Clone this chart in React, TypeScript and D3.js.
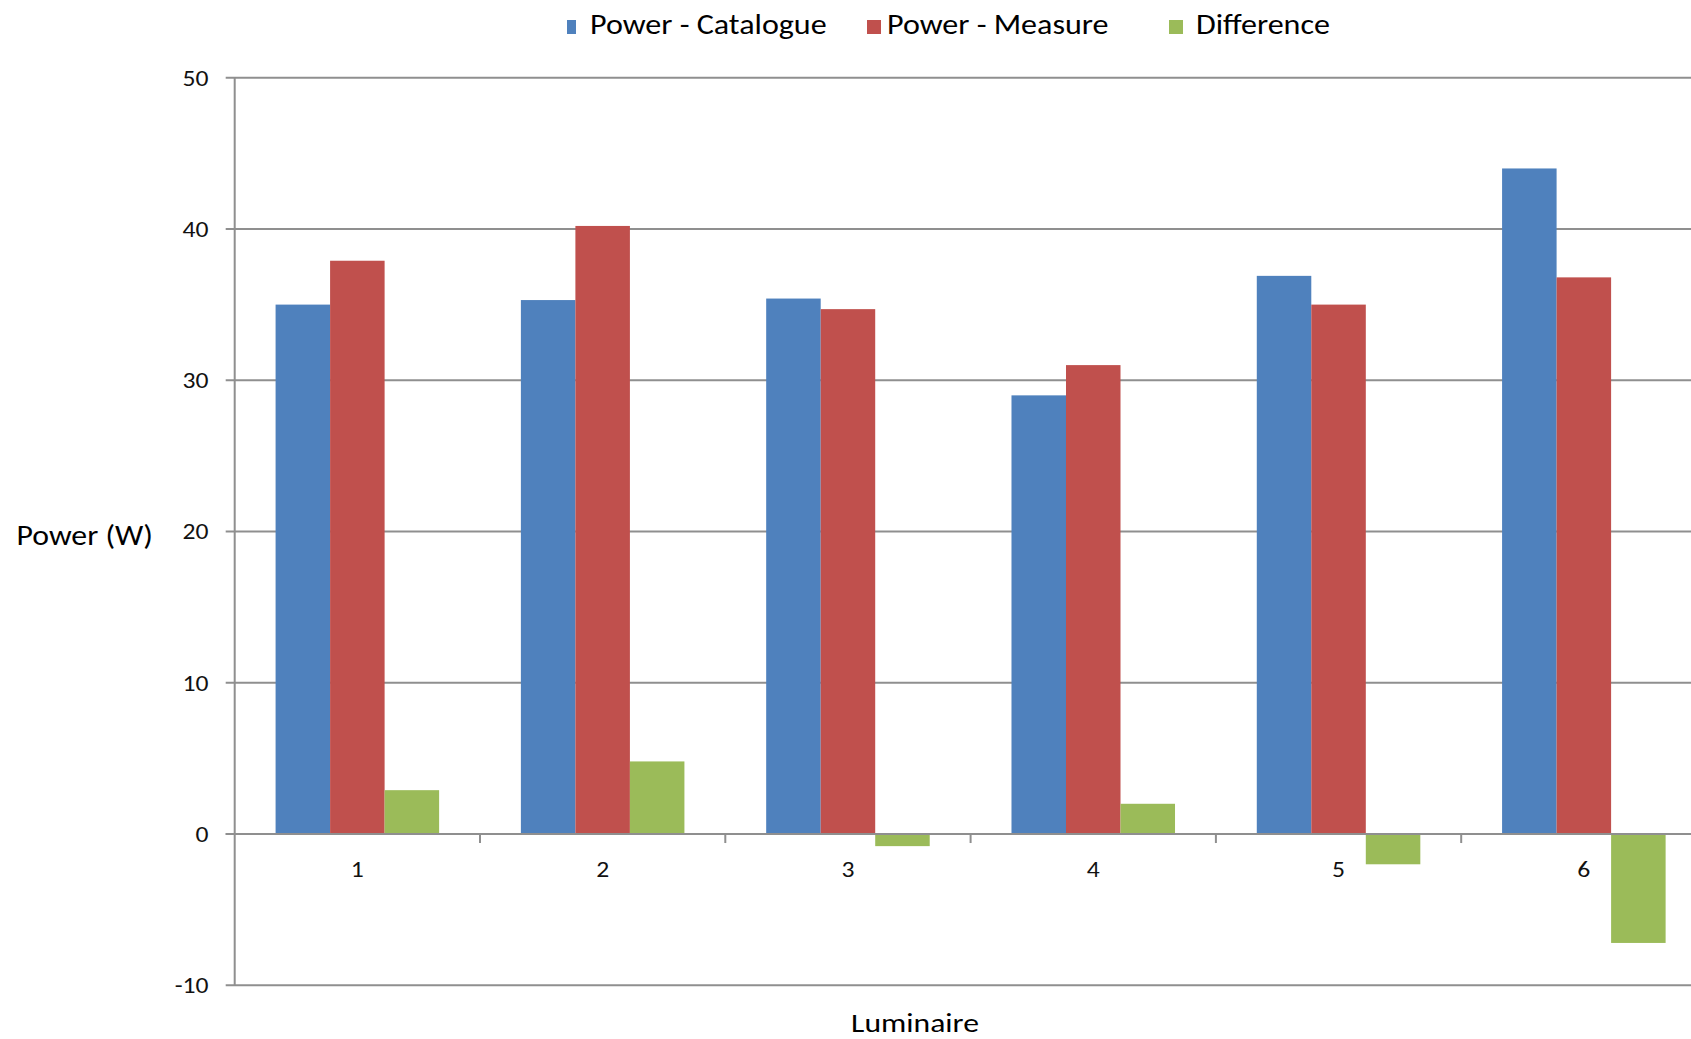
import React from "react";
import * as d3 from "d3";

// Luminaire numbers along the x axis
const luminaires = ["1", "2", "3", "4", "5", "6"];

// Power values in watts
const powerCatalogue = [35, 35.3, 35.4, 29, 36.9, 44];
const powerMeasure = [37.9, 40.2, 34.7, 31, 35, 36.8];
const difference = [2.9, 4.8, -0.8, 2, -2, -7.2];

const seriesNames = ["Power - Catalogue", "Power - Measure", "Difference"];
const seriesColors = ["#4F81BD", "#C0504D", "#9BBB59"];

const yTicks = [-10, 0, 10, 20, 30, 40, 50];

const W = 1691;
const H = 1039;
const FONT = "Carlito, Lato, sans-serif";
const GRID = "#8f8f8f";

// Text that is widened horizontally around its anchor point
function WideText(props: {
  x: number;
  y: number;
  size: number;
  sx: number;
  anchor?: "start" | "middle" | "end";
  dy?: string;
  fill?: string;
  children: React.ReactNode;
}) {
  const { x, y, size, sx, anchor = "start", dy, fill = "#000", children } = props;
  return (
    <text
      transform={`translate(${x},${y}) scale(${sx},1)`}
      textAnchor={anchor}
      dy={dy}
      fontSize={size}
      fill={fill}
    >
      {children}
    </text>
  );
}

export default function App() {
  const axisX = 234.7;
  const catWidth = 245.3;

  const y = d3.scaleLinear().domain([-10, 50]).range([985.3, 77.7]);

  const x = d3
    .scaleBand<string>()
    .domain(luminaires)
    .range([axisX, axisX + catWidth * luminaires.length])
    .padding(0);

  const inner = d3
    .scaleBand<string>()
    .domain(seriesNames)
    .range([0, x.bandwidth()])
    .paddingInner(0)
    .paddingOuter(0.75);

  const allSeries = [powerCatalogue, powerMeasure, difference];

  const legendItems = [
    { name: seriesNames[0], color: seriesColors[0], mx: 567, mw: 9, tx: 590 },
    { name: seriesNames[1], color: seriesColors[1], mx: 867, mw: 14, tx: 887 },
    { name: seriesNames[2], color: seriesColors[2], mx: 1169, mw: 14, tx: 1196 },
  ];

  return (
    <svg
      width={W}
      height={H}
      style={{ position: "absolute", left: 0, top: 0, background: "#fff" }}
      fontFamily={FONT}
    >
      <rect x={0} y={0} width={W} height={H} fill="#fff" />

      {/* legend */}
      {legendItems.map((d) => (
        <g key={d.name}>
          <rect x={d.mx} y={20} width={d.mw} height={14} fill={d.color} />
          <WideText x={d.tx} y={34} size={28} sx={1.145}>
            {d.name}
          </WideText>
        </g>
      ))}

      {/* horizontal gridlines with left tick marks */}
      {yTicks.map((t) => (
        <g key={t}>
          <line
            x1={225.7}
            x2={W}
            y1={y(t)}
            y2={y(t)}
            stroke={GRID}
            strokeWidth={2}
          />
          <WideText
            x={208.5}
            y={y(t)}
            dy="0.35em"
            anchor="end"
            size={22.5}
            sx={1.14}
            fill="#111"
          >
            {t}
          </WideText>
        </g>
      ))}

      {/* vertical axis */}
      <line
        x1={axisX}
        x2={axisX}
        y1={y(50)}
        y2={y(-10)}
        stroke={GRID}
        strokeWidth={2}
      />

      {/* bars */}
      {allSeries.map((vals, si) =>
        vals.map((v, i) => {
          const bx = (x(luminaires[i]) as number) + (inner(seriesNames[si]) as number);
          const y0 = y(0);
          const yv = y(v);
          return (
            <rect
              key={`${si}-${i}`}
              x={bx}
              y={Math.min(y0, yv)}
              width={inner.bandwidth()}
              height={Math.abs(yv - y0)}
              fill={seriesColors[si]}
            />
          );
        })
      )}

      {/* zero line drawn over the bars */}
      <line x1={225.7} x2={W} y1={y(0)} y2={y(0)} stroke={GRID} strokeWidth={2} />

      {/* category tick marks on the zero line */}
      {luminaires.map((c) => {
        const bx = (x(c) as number) + x.bandwidth();
        return (
          <line
            key={`tick-${c}`}
            x1={bx}
            x2={bx}
            y1={y(0)}
            y2={y(0) + 9}
            stroke={GRID}
            strokeWidth={2}
          />
        );
      })}

      {/* category labels */}
      {luminaires.map((c) => (
        <WideText
          key={`lab-${c}`}
          x={(x(c) as number) + x.bandwidth() / 2}
          y={876.5}
          anchor="middle"
          size={22.5}
          sx={1.14}
          fill="#111"
        >
          {c}
        </WideText>
      ))}

      {/* axis titles */}
      <WideText x={16.5} y={545} size={28} sx={1.135}>
        Power (W)
      </WideText>
      <WideText x={915} y={1032} anchor="middle" size={27.5} sx={1.15}>
        Luminaire
      </WideText>
    </svg>
  );
}
